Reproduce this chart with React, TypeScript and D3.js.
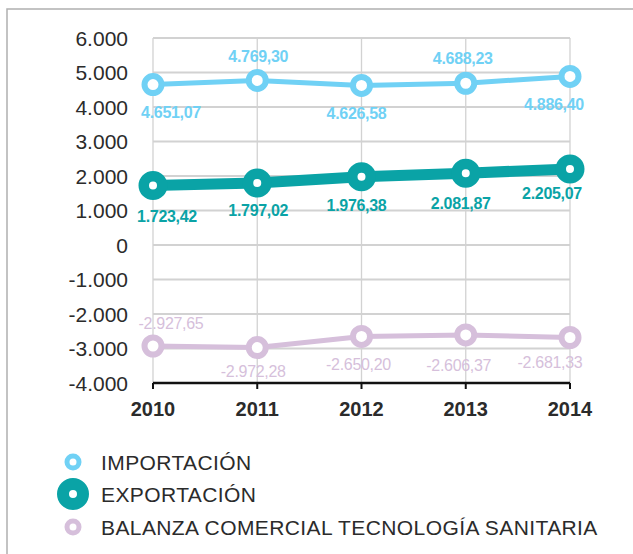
import React from 'react';
import * as d3 from 'd3';

const years = ['2010', '2011', '2012', '2013', '2014'];
const importacion = [4651.07, 4769.3, 4626.58, 4688.23, 4886.4];
const exportacion = [1723.42, 1797.02, 1976.38, 2081.87, 2205.07];
const balanza = [-2927.65, -2972.28, -2650.2, -2606.37, -2681.33];
const yTicks = [6000, 5000, 4000, 3000, 2000, 1000, 0, -1000, -2000, -3000, -4000];
const legendNames = ['IMPORTACIÓN', 'EXPORTACIÓN', 'BALANZA COMERCIAL TECNOLOGÍA SANITARIA'];

// label placement (offsets from the point, in px)
const labelDx = {
  imp: [18, 1, -5, -3, -16],
  exp: [14, 1, -5, -5, -18],
  bal: [18, -4, -3, -7, -20],
};
const labelDy = {
  imp: [28, -24, 28, -25, 28],
  exp: [31, 27, 28, 30, 24],
  bal: [-23, 24, 28, 30, 25],
};

const W = 633;
const H = 554;
const left = 153;
const right = 570;
const top = 38;
const bottom = 383;

// 1234.5 -> "1.234,50"
const fmt = (v: number) => {
  const s = d3.format(',.2f')(v).replace('−', '-');
  return s.replace(/,/g, '#').replace('.', ',').replace(/#/g, '.');
};
const fmtTick = (v: number) => d3.format(',')(v).replace(/,/g, '.').replace('−', '-');

const BLUE = '#70d1f5';
const TEAL = '#0aa3a6';
const LILAC = '#d6bfdb';
const TEXT = '#2b2b2b';
const GRID = '#d2d2d2';

const App = () => {
  const x = d3.scalePoint<string>().domain(years).range([left, right]);
  const y = d3.scaleLinear().domain([-4000, 6000]).range([bottom, top]);
  const line = d3
    .line<number>()
    .x((d, i) => x(years[i]) as number)
    .y((d) => y(d));

  const series = [
    { key: 'bal', values: balanza, color: LILAC, lw: 5, r: 8.5, sw: 6, weight: 'normal' },
    { key: 'imp', values: importacion, color: BLUE, lw: 5, r: 8.5, sw: 6, weight: 'bold' },
    { key: 'exp', values: exportacion, color: TEAL, lw: 11, r: 9.25, sw: 10.5, weight: 'bold' },
  ];

  const legend = [
    { name: legendNames[0], color: BLUE, r: 6, sw: 5, cy: 462 },
    { name: legendNames[1], color: TEAL, r: 10, sw: 12, cy: 494 },
    { name: legendNames[2], color: LILAC, r: 6, sw: 5, cy: 527 },
  ];

  return (
    <svg
      width={W}
      height={H}
      style={{ position: 'absolute', left: 0, top: 0, background: '#fff' }}
      fontFamily="'Liberation Sans', Arial, sans-serif"
    >
      <defs>
        <clipPath id="legclip">
          <rect x={57} y={470} width={32} height={50} />
        </clipPath>
      </defs>
      {/* frame */}
      <rect x={7} y={9} width={700} height={700} fill="none" stroke="#b0b0b0" strokeWidth={1.5} />

      {/* grid */}
      {yTicks.slice(0, -1).map((t) => (
        <line key={t} x1={left} x2={right} y1={y(t)} y2={y(t)} stroke={GRID} strokeWidth={2} />
      ))}
      {years.map((yr) => (
        <line key={yr} x1={x(yr)} x2={x(yr)} y1={top} y2={bottom} stroke={GRID} strokeWidth={1.3} />
      ))}

      {/* y labels */}
      {yTicks.map((t) => (
        <text key={t} x={128} y={y(t)} dy="0.36em" textAnchor="end" fontSize={21} fill={TEXT}>
          {fmtTick(t)}
        </text>
      ))}

      {/* x axis */}
      <line x1={left} x2={right} y1={bottom} y2={bottom} stroke="#111" strokeWidth={2.5} />
      {years.map((yr) => (
        <g key={yr}>
          <line x1={x(yr)} x2={x(yr)} y1={bottom} y2={bottom + 6} stroke="#111" strokeWidth={2} />
          <text x={x(yr)} y={416} textAnchor="middle" fontSize={20} fontWeight="bold" fill={TEXT}>
            {yr}
          </text>
        </g>
      ))}

      {/* series */}
      {series.map((s) => (
        <g key={s.key}>
          <path d={line(s.values) as string} fill="none" stroke={s.color} strokeWidth={s.lw} strokeLinejoin="round" />
          {s.values.map((v, i) => (
            <circle key={i} cx={x(years[i])} cy={y(v)} r={s.r} fill="#fff" stroke={s.color} strokeWidth={s.sw} />
          ))}
        </g>
      ))}

      {/* data labels */}
      {series.map((s) =>
        s.values.map((v, i) => (
          <text
            key={s.key + i}
            x={(x(years[i]) as number) + labelDx[s.key as keyof typeof labelDx][i]}
            y={y(v) + labelDy[s.key as keyof typeof labelDy][i]}
            dy="0.36em"
            textAnchor="middle"
            fontSize={16}
            fontWeight={s.weight}
            letterSpacing={-0.3}
            fill={s.color}
          >
            {fmt(v)}
          </text>
        ))
      )}

      {/* legend */}
      {legend.map((l, i) => (
        <g key={l.name}>
          <circle
            cx={73}
            cy={l.cy}
            r={l.r}
            fill="#fff"
            stroke={l.color}
            strokeWidth={l.sw}
            clipPath={i === 1 ? 'url(#legclip)' : undefined}
          />
          <text x={101} y={l.cy} dy="0.36em" fontSize={21} letterSpacing={0.4} fill={TEXT}>
            {l.name}
          </text>
        </g>
      ))}
    </svg>
  );
};

export default App;
